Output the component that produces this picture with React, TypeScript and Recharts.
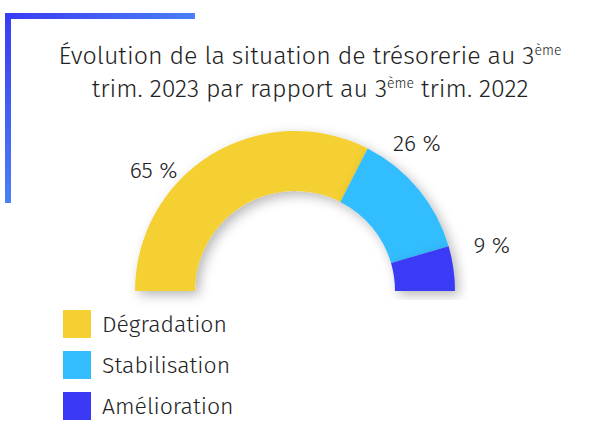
import { PieChart, Pie, Cell } from 'recharts';

const categories = ['Dégradation', 'Stabilisation', 'Amélioration'];
const shares = [65, 26, 9];
const colors = ['#F5D033', '#33BDFF', '#3A3AF5'];

const data = categories.map((name, i) => ({ name, value: shares[i], color: colors[i] }));

const FONT = '"Fira Sans", "Noto Sans", "Open Sans", sans-serif';
const TEXT = '#222';
const RAD = Math.PI / 180;

// labels sit a bit off the slice middle, like the original
const labelShift = [18, 11, 5];
const labelRadius = [186, 192, 202];

const renderLabel = (props: any) => {
  const { cx, cy, midAngle, index, value } = props;
  const a = (midAngle + labelShift[index]) * RAD;
  const r = labelRadius[index];
  const x = cx + r * Math.cos(a);
  const y = cy - r * Math.sin(a);
  return (
    <text x={x} y={y} fill={TEXT} fontSize={23} fontWeight={300} fontFamily={FONT} textAnchor="middle" dominantBaseline="central">
      {`${value} %`}
    </text>
  );
};

export default function App() {
  return (
    <div style={{ position: 'absolute', left: 0, top: 0, width: 595, height: 445, background: '#fff', overflow: 'hidden' }}>
      <div style={{ position: 'absolute', left: 5, top: 13, width: 190, height: 6, background: 'linear-gradient(to right, #3a3af5, #4a80f5)' }} />
      <div style={{ position: 'absolute', left: 5, top: 13, width: 6, height: 190, background: 'linear-gradient(to bottom, #3a3af5, #4a80f5)' }} />
      <div
        style={{
          position: 'absolute',
          left: 30,
          top: 40,
          width: 560,
          textAlign: 'center',
          fontFamily: FONT,
          fontSize: 25,
          fontWeight: 300,
          lineHeight: '33px',
          color: TEXT,
        }}
      >
        Évolution de la situation de trésorerie au 3<sup style={{ fontSize: 14, lineHeight: 0 }}>ème</sup>
        <br />
        trim. 2023 par rapport au 3<sup style={{ fontSize: 14, lineHeight: 0 }}>ème</sup> trim. 2022
      </div>
      <div style={{ position: 'absolute', left: 0, top: 0 }}>
        <PieChart width={595} height={445} margin={{ top: 0, right: 0, bottom: 0, left: 0 }}>
          <defs>
            <filter id="arcShadow" x="-20%" y="-20%" width="140%" height="140%">
              <feDropShadow dx="4" dy="4" stdDeviation="6" floodColor="#000" floodOpacity="0.28" />
            </filter>
          </defs>
          <Pie
            data={data}
            dataKey="value"
            nameKey="name"
            cx={295}
            cy={291}
            startAngle={180}
            endAngle={0}
            innerRadius={100}
            outerRadius={160}
            stroke="none"
            labelLine={false}
            label={renderLabel}
            isAnimationActive={false}
            style={{ filter: 'url(#arcShadow)' }}
          >
            {data.map((entry, index) => (
              <Cell key={`cell-${index}`} fill={entry.color} />
            ))}
          </Pie>
        </PieChart>
      </div>
      <div style={{ position: 'absolute', left: 63, top: 303, fontFamily: FONT, fontWeight: 300 }}>
        {data.map((d) => (
          <div key={d.name} style={{ display: 'flex', alignItems: 'center', height: 41 }}>
            <div style={{ width: 28, height: 28, background: d.color, marginRight: 11 }} />
            <span style={{ fontSize: 23, color: TEXT }}>{d.name}</span>
          </div>
        ))}
      </div>
    </div>
  );
}
